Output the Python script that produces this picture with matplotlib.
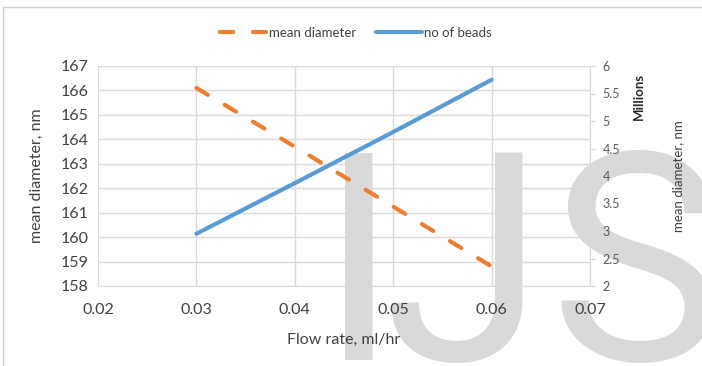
import matplotlib
matplotlib.use('Agg')
import matplotlib.pyplot as plt
from matplotlib.patches import Rectangle

# Data.
flow_rate = [0.03, 0.04, 0.05, 0.06]
mean_diameter = [166.1, 163.7, 161.25, 158.8]
beads_millions = [2.95, 3.87, 4.8, 5.75]

x_ticks = [0.02, 0.03, 0.04, 0.05, 0.06, 0.07]
left_ticks = list(range(158, 168))
right_ticks = [2, 2.5, 3, 3.5, 4, 4.5, 5, 5.5, 6]
right_labels = ['2', '2.5', '3', '3.5', '4', '4.5', '5', '5.5', '6']

orange = '#ED7D31'
blue = '#5B9BD5'
grid = '#D9D9D9'
text = '#404040'

plt.rcParams['font.family'] = ['Lato', 'DejaVu Sans']

fig = plt.figure(figsize=(7.02, 3.66), dpi=100)
W, H = 702, 366
pos = [98 / W, (H - 286) / H, (590 - 98) / W, (286 - 66) / H]

# Chart-area border.
fig.patches.append(Rectangle((3 / W, -0.1), 1.2, (H - 7) / H + 0.1,
                             transform=fig.transFigure, fill=False,
                             edgecolor='#D0D0D0', linewidth=1))

# Background axes carrying only the gridlines (watermark goes over them).
axbg = fig.add_axes(pos, zorder=-2)
axbg.set_xlim(0.02, 0.07)
axbg.set_ylim(158, 167)
axbg.set_xticks(x_ticks)
axbg.set_yticks(left_ticks)
axbg.grid(True, color=grid, linewidth=1)
axbg.tick_params(length=0, labelbottom=False, labelleft=False)
for s in axbg.spines.values():
    s.set_visible(False)

# Watermark.
for letter, xpos in [('I', 359), ('J', 464), ('S', 636)]:
    fig.text(xpos / W, (H - 360) / H, letter, fontsize=210, color='#D9D9D9',
             family='Roboto', ha='center', va='baseline', zorder=-1)

ax = fig.add_axes(pos, zorder=0)
ax2 = ax.twinx()
ax.patch.set_visible(False)
ax2.patch.set_visible(False)

ax.set_xlim(0.02, 0.07)
ax.set_ylim(158, 167)
ax2.set_ylim(2, 6)

ax.set_xticks(x_ticks)
ax.set_xticklabels(['%.2f' % v for v in x_ticks])
ax.set_yticks(left_ticks)
ax2.set_yticks(right_ticks)
ax2.set_yticklabels(right_labels)

for s in ['top', 'left', 'right']:
    ax.spines[s].set_visible(False)
ax.spines['bottom'].set_color(grid)
for s in ['top', 'left', 'bottom']:
    ax2.spines[s].set_visible(False)
ax2.spines['right'].set_color(grid)

ax.tick_params(axis='both', length=0, labelsize=11.5, labelcolor=text, pad=7)
ax.tick_params(axis='x', pad=12)
ax2.tick_params(axis='y', length=4, color=grid, labelsize=9, labelcolor='#595959', pad=5)

ax.set_xlabel('Flow rate, ml/hr', fontsize=11.5, color=text, labelpad=12)
ax.set_ylabel('mean diameter, nm', fontsize=11.5, color=text, labelpad=12)

ax.plot(flow_rate, mean_diameter, color=orange, linewidth=3,
        dashes=(3.2, 4.7), dash_capstyle='round',
        label='mean diameter', zorder=3)
ax2.plot(flow_rate, beads_millions, color=blue, linewidth=3,
         solid_capstyle='round', label='no of beads', zorder=3)

ax2.text(1.1, 0.86, 'Millions', transform=ax.transAxes, rotation=90,
         ha='center', va='center', fontsize=9.5, fontweight='bold', color='#262626')
ax2.text(1.179, 0.5, 'mean diameter, nm', transform=ax.transAxes, rotation=90,
         ha='center', va='center', fontsize=9.5, color=text)

h1, lab1 = ax.get_legend_handles_labels()
h2, lab2 = ax2.get_legend_handles_labels()
fig.legend(h1 + h2, lab1 + lab2, loc='center',
           bbox_to_anchor=(356 / W, (H - 33) / H), ncol=2, frameon=False,
           fontsize=9.5, handlelength=3.5, columnspacing=1.5, handletextpad=0.2,
           labelcolor=text)

fig.savefig('out.png', dpi=100)
